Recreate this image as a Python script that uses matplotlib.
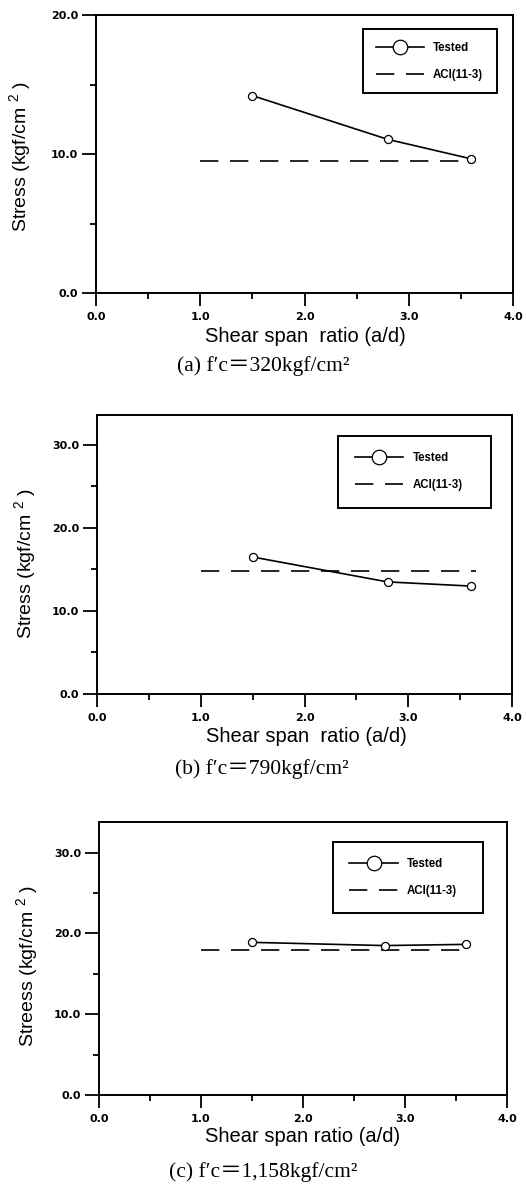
import matplotlib
matplotlib.use('Agg')
import matplotlib.pyplot as plt
from matplotlib.ticker import MultipleLocator, FormatStrFormatter

plt.rcParams['font.family'] = ['Liberation Sans', 'DejaVu Sans']
plt.rcParams['mathtext.fontset'] = 'custom'
plt.rcParams['mathtext.rm'] = 'Liberation Sans'
plt.rcParams['mathtext.it'] = 'Liberation Sans:italic'
plt.rcParams['mathtext.bf'] = 'Liberation Sans:bold'

# ---------------- data ----------------
ratio = [1.5, 2.8, 3.6]
tested_a = [14.2, 11.05, 9.65]
tested_b = [16.5, 13.5, 13.0]
tested_c = [18.9, 18.5, 18.65]

aci_x_a = [1.0, 3.6]
aci_a = [9.5, 9.5]
aci_x_b = [1.0, 3.65]
aci_b = [14.8, 14.8]
aci_x_c = [1.0, 3.6]
aci_c = [18.0, 18.0]

ymax = [20.0, 33.6, 33.8]
ylabels = ['Stress (kgf/cm $^{2}$ )', 'Stress (kgf/cm $^{2}$ )', 'Streess (kgf/cm $^{2}$ )']
xlabels = ['Shear span  ratio (a/d)', 'Shear span  ratio (a/d)', 'Shear span ratio (a/d)']
captions = ['(a) f\u2032c\uff1d320kgf/cm\u00b2', '(b) f\u2032c\uff1d790kgf/cm\u00b2', '(c) f\u2032c\uff1d1,158kgf/cm\u00b2']
legend_labels = ['Tested', 'ACI(11-3)']

tested = [tested_a, tested_b, tested_c]
aci_x = [aci_x_a, aci_x_b, aci_x_c]
aci = [aci_a, aci_b, aci_c]

# ---------------- layout (pixels) ----------------
W, H = 526, 1184
fig = plt.figure(figsize=(W / 100, H / 100), dpi=100)

boxes = [(96, 15, 513, 293), (97, 415, 512, 694), (99, 822, 507, 1095)]
xlab_pos = [(305, 337), (306, 737), (303, 1137)]
ylab_pos = [(20, 157), (25, 564), (27, 966)]
cap_pos = [(263, 366), (262, 769), (263, 1172)]
leg_anchor = [(0.640, 0.950, 0.321), (0.581, 0.926, 0.369), (0.574, 0.928, 0.368)]
leg_pad = [1.1, 1.45, 1.4]

def fx(x):
    return x / W

def fy(y):
    return 1 - y / H

for i in range(3):
    l, t, r, b = boxes[i]
    ax = fig.add_axes([fx(l), fy(b), (r - l) / W, (b - t) / H])
    ax.plot(ratio, tested[i], '-', color='black', lw=1.2, marker='o', ms=5.8,
            mfc='white', mec='black', mew=0.9, label=legend_labels[0], zorder=3)
    ax.plot(aci_x[i], aci[i], color='black', lw=1.2, dashes=(11, 7),
            label=legend_labels[1], zorder=2)
    ax.set_xlim(0, 4)
    ax.set_ylim(0, ymax[i])
    ax.xaxis.set_major_locator(MultipleLocator(1.0))
    ax.xaxis.set_minor_locator(MultipleLocator(0.5))
    ax.yaxis.set_major_locator(MultipleLocator(10.0))
    ax.yaxis.set_minor_locator(MultipleLocator(5.0))
    ax.xaxis.set_major_formatter(FormatStrFormatter('%.1f'))
    ax.yaxis.set_major_formatter(FormatStrFormatter('%.1f'))
    ax.tick_params(axis='both', which='major', direction='out', length=9,
                   width=1.3, labelsize=8)
    ax.tick_params(axis='y', which='major', length=10, pad=3)
    ax.tick_params(axis='x', which='major', pad=5)
    ax.tick_params(axis='both', which='minor', direction='out', length=4, width=1.3)
    for lab in ax.get_xticklabels() + ax.get_yticklabels():
        lab.set_fontweight('bold')
        lab.set_family(['DejaVu Sans'])
    for sp in ax.spines.values():
        sp.set_linewidth(1.4)

    x0, y0, w = leg_anchor[i]
    leg = ax.legend(loc='upper left', bbox_to_anchor=(x0, y0, w, 0.0), mode='expand',
                    frameon=True, fancybox=False, edgecolor='black', framealpha=1,
                    borderaxespad=0, borderpad=leg_pad[i], labelspacing=1.3,
                    handlelength=4.2, handletextpad=0.8, markerscale=1.8,
                    prop={'weight': 'bold', 'size': 8.3})
    leg.get_frame().set_linewidth(1.4)

    fig.text(fx(xlab_pos[i][0]), fy(xlab_pos[i][1]), xlabels[i], fontsize=14.5,
             ha='center', va='center')
    fig.text(fx(ylab_pos[i][0]), fy(ylab_pos[i][1]), ylabels[i], fontsize=14,
             ha='center', va='center', rotation=90)
    fig.text(fx(cap_pos[i][0]), fy(cap_pos[i][1]), captions[i], fontsize=15.5,
             ha='center', va='center',
             family=['Liberation Serif', 'DejaVu Serif', 'Noto Sans CJK KR'])

fig.savefig('out.png', dpi=100)
